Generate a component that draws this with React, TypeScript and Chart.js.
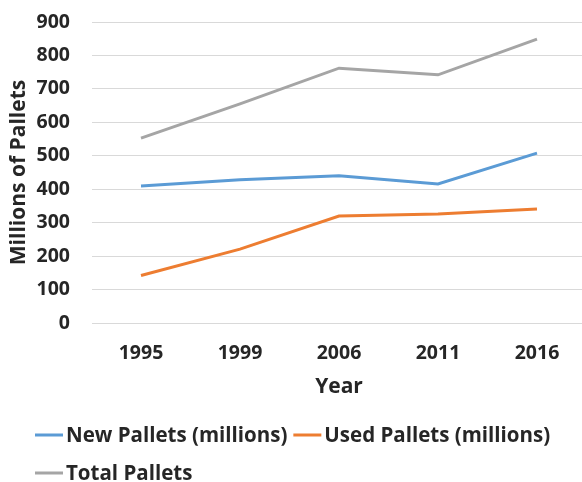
import React, { useEffect, useRef } from "react";
import { Chart, registerables } from "chart.js";

Chart.register(...registerables);

const categories = ["1995", "1999", "2006", "2011", "2016"];
const newPallets = [410, 428, 440, 416, 508];
const usedPallets = [142, 221, 320, 326, 341];
const totalPallets = [553, 655, 762, 742, 849];
const seriesLabels = ["New Pallets (millions)", "Used Pallets (millions)", "Total Pallets"];
const seriesColors = ["#5B9BD5", "#ED7D31", "#A5A5A5"];
const yTicks = [0, 100, 200, 300, 400, 500, 600, 700, 800, 900];
const yTitle = "Millions of Pallets";
const xTitle = "Year";

const FONT = "'Open Sans', sans-serif";
const FSIZE = 19.5;
const TSIZE = 21;
const LSIZE = 20.5;
const TEXT = "#262626";

const legendPlugin = {
  id: "customLegend",
  afterDraw(chart: any) {
    const ctx = chart.ctx;
    ctx.save();
    ctx.font = `bold ${LSIZE}px ${FONT}`;
    ctx.textBaseline = "middle";
    ctx.textAlign = "left";
    const items = chart.data.datasets.map((d: any) => ({ text: d.label, color: d.borderColor }));
    const rows = [[items[0], items[1]], [items[2]]];
    const rowY = [435, 473];
    rows.forEach((row, ri) => {
      let x = 35;
      row.forEach((it: any) => {
        ctx.strokeStyle = it.color;
        ctx.lineWidth = 3;
        ctx.beginPath();
        ctx.moveTo(x, rowY[ri]);
        ctx.lineTo(x + 28, rowY[ri]);
        ctx.stroke();
        ctx.fillStyle = TEXT;
        ctx.fillText(it.text, x + 31, rowY[ri] + 1);
        x = x + 31 + ctx.measureText(it.text).width + 6;
      });
    });
    ctx.restore();
  },
};

export default function App() {
  const ref = useRef<HTMLCanvasElement>(null);
  useEffect(() => {
    document.body.style.margin = "0";
    const chart = new Chart(ref.current!, {
      type: "line",
      data: {
        labels: categories,
        datasets: [newPallets, usedPallets, totalPallets].map((d, i) => ({
          label: seriesLabels[i],
          data: d,
          borderColor: seriesColors[i],
          backgroundColor: seriesColors[i],
          borderWidth: 3,
          pointRadius: 0,
          tension: 0,
        })),
      },
      options: {
        animation: false,
        responsive: false,
        maintainAspectRatio: false,
        layout: { padding: { left: 0, right: 13.5, top: 22, bottom: 79 } },
        plugins: { legend: { display: false }, tooltip: { enabled: false } },
        scales: {
          x: {
            type: "category",
            offset: true,
            grid: { display: false, drawTicks: false },
            border: { display: false },
            ticks: { color: TEXT, font: { family: FONT, size: FSIZE, weight: "bold" }, padding: 18.5, maxRotation: 0 },
            title: {
              display: true,
              text: xTitle,
              color: TEXT,
              font: { family: FONT, size: TSIZE, weight: "bold" },
              padding: { top: 0, bottom: 3.5 },
            },
            afterFit: (s: any) => {
              s.height = 80;
              s.paddingLeft = 0;
              s.paddingRight = 0;
            },
          },
          y: {
            min: 0,
            max: 900,
            afterBuildTicks: (s: any) => {
              s.ticks = yTicks.map((v) => ({ value: v }));
            },
            grid: { color: "#D9D9D9", lineWidth: 1, drawTicks: false },
            border: { display: false },
            ticks: { color: TEXT, font: { family: FONT, size: FSIZE, weight: "bold" }, padding: 21.5 },
            title: {
              display: true,
              text: yTitle,
              color: TEXT,
              font: { family: FONT, size: TSIZE, weight: "bold" },
              padding: { top: 6.5, bottom: 0 },
            },
            afterFit: (s: any) => {
              s.width = 91.5;
              s.paddingTop = 0;
              s.paddingBottom = 0;
            },
          },
        },
      },
      plugins: [legendPlugin],
    } as any);
    return () => chart.destroy();
  }, []);
  return (
    <div style={{ width: 582, height: 482, overflow: "hidden", background: "#fff" }}>
      <canvas ref={ref} width={600} height={482} style={{ display: "block" }} />
    </div>
  );
}
